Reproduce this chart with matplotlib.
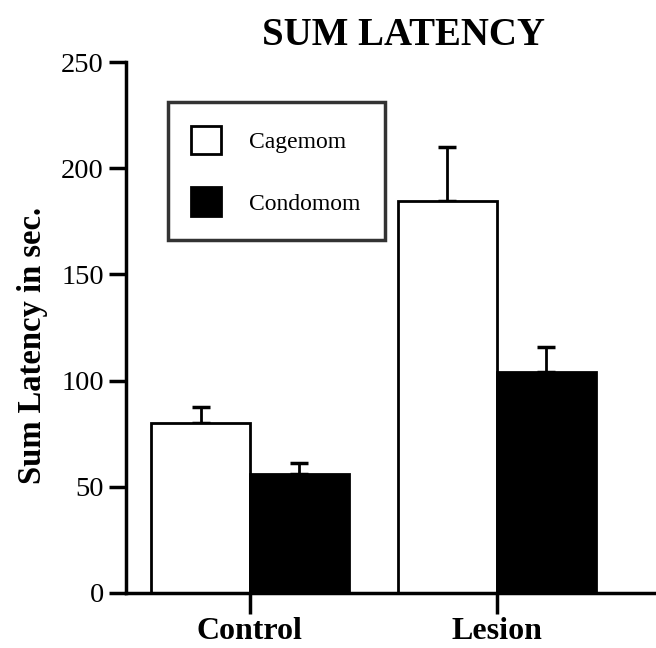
import numpy as np
import matplotlib.pyplot as plt
from matplotlib.patches import Rectangle

plt.rcParams['font.family'] = ['Liberation Serif', 'DejaVu Serif']

groups = ['Control', 'Lesion']
series = ['Cagemom', 'Condomom']
cagemom = [80, 184.5]
cagemom_err = [7.5, 25.5]
condomom = [56, 104]
condomom_err = [5, 12]
yticks = [0, 50, 100, 150, 200, 250]

fig = plt.figure(figsize=(6.56, 6.48), dpi=100)
ax = fig.add_axes([0.192, 0.085, 0.808, 0.819])

x = np.arange(len(groups))
w = 0.4
ax.bar(x - w/2, cagemom, w, color='white', edgecolor='black', linewidth=2, zorder=2)
ax.bar(x + w/2, condomom, w, color='black', edgecolor='black', linewidth=2, zorder=2)
ax.errorbar(x - w/2, cagemom, yerr=[np.zeros(2), cagemom_err], fmt='none',
            ecolor='black', elinewidth=2, capsize=6.5, capthick=2.5, zorder=1)
ax.errorbar(x + w/2, condomom, yerr=[np.zeros(2), condomom_err], fmt='none',
            ecolor='black', elinewidth=2, capsize=6.5, capthick=2.5, zorder=1)

ax.set_xlim(-0.502, 1.645)
ax.set_ylim(0, 250)
ax.set_yticks(yticks)
ax.set_yticklabels([str(t) for t in yticks], fontsize=20.5)
ax.set_xticks(x)
ax.set_xticklabels(groups, fontsize=23, fontweight='bold')
ax.tick_params(axis='y', length=12, width=2.5, pad=4)
ax.tick_params(axis='x', length=15, width=2.5, pad=2)
for s in ['top', 'right']:
    ax.spines[s].set_visible(False)
for s in ['left', 'bottom']:
    ax.spines[s].set_linewidth(2.5)

ax.set_ylabel('Sum Latency in sec.', fontsize=23.5, fontweight='bold')
ax.yaxis.set_label_coords(-0.148, 0.467)
fig.text(0.615, 0.945, 'SUM LATENCY', fontsize=28, fontweight='bold', ha='center', va='center')

leg = ax.legend([Rectangle((0, 0), 1, 1, fc='white', ec='black', lw=2),
                 Rectangle((0, 0), 1, 1, fc='black', ec='black', lw=2)],
                series, loc='upper left', bbox_to_anchor=(0.079, 0.925, 0.409, 0.0),
                mode='expand', fontsize=17, frameon=True, fancybox=False, edgecolor='black',
                handlelength=1.25, handleheight=1.5, handletextpad=1.2,
                labelspacing=1.4, borderpad=1.0, borderaxespad=0)
leg.get_frame().set_linewidth(2.5)

fig.savefig('out.png', dpi=100, facecolor='white')
